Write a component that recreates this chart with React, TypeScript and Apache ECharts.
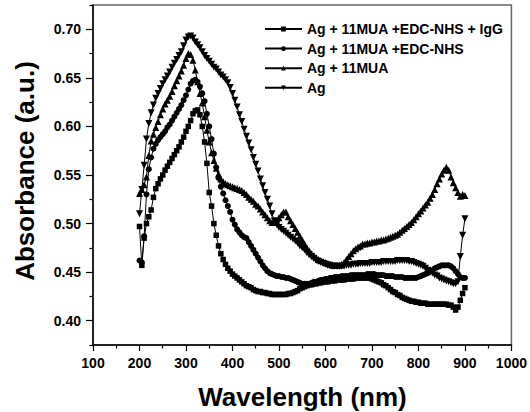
import React, { useEffect, useRef } from "react";
import * as echarts from "echarts";

const wavelengths = [
  200, 205, 210, 215, 220, 225, 230, 235, 240, 245,
  250, 255, 260, 265, 270, 275, 280, 285, 290, 295,
  300, 305, 310, 315, 320, 325, 330, 335, 340, 345,
  350, 355, 360, 365, 370, 375, 380, 385, 390, 395,
  400, 405, 410, 415, 420, 425, 430, 435, 440, 445,
  450, 455, 460, 465, 470, 475, 480, 485, 490, 495,
  500, 505, 510, 515, 520, 525, 530, 535, 540, 545,
  550, 555, 560, 565, 570, 575, 580, 585, 590, 595,
  600, 605, 610, 615, 620, 625, 630, 635, 640, 645,
  650, 655, 660, 665, 670, 675, 680, 685, 690, 695,
  700, 705, 710, 715, 720, 725, 730, 735, 740, 745,
  750, 755, 760, 765, 770, 775, 780, 785, 790, 795,
  800, 805, 810, 815, 820, 825, 830, 835, 840, 845,
  850, 855, 860, 865, 870, 875, 880, 885, 890, 895,
  900,
];

// Ag + 11MUA +EDC-NHS + IgG (squares)
const agMuaEdcIgG = [
  0.497, 0.457, 0.485, 0.500, 0.507, 0.514, 0.527, 0.536, 0.541, 0.546,
  0.550, 0.555, 0.559, 0.563, 0.567, 0.571, 0.575, 0.579, 0.584, 0.589,
  0.595, 0.600, 0.606, 0.613, 0.616, 0.617, 0.612, 0.600, 0.584, 0.562,
  0.532, 0.518, 0.500, 0.488, 0.477, 0.469, 0.463, 0.458, 0.454, 0.451,
  0.448, 0.446, 0.444, 0.442, 0.440, 0.438, 0.436, 0.435, 0.434, 0.432,
  0.431, 0.430, 0.430, 0.429, 0.429, 0.428, 0.428, 0.427, 0.427, 0.427,
  0.427, 0.427, 0.427, 0.427, 0.428, 0.428, 0.429, 0.430, 0.431, 0.433,
  0.434, 0.435, 0.436, 0.437, 0.437, 0.438, 0.438, 0.439, 0.439, 0.440,
  0.440, 0.440, 0.441, 0.441, 0.441, 0.442, 0.442, 0.442, 0.442, 0.443,
  0.443, 0.443, 0.443, 0.444, 0.444, 0.444, 0.444, 0.444, 0.444, 0.444,
  0.443, 0.442, 0.441, 0.440, 0.439, 0.437, 0.436, 0.434, 0.432, 0.430,
  0.429, 0.427, 0.426, 0.424, 0.423, 0.422, 0.421, 0.420, 0.420, 0.419,
  0.419, 0.418, 0.418, 0.418, 0.417, 0.417, 0.417, 0.417, 0.417, 0.417,
  0.417, 0.417, 0.417, 0.416, 0.416, 0.414, 0.411, 0.414, 0.421, 0.428,
  0.434,
];

// Ag + 11MUA +EDC-NHS (circles)
const agMuaEdc = [
  0.462, 0.460, 0.487, 0.530, 0.556, 0.568, 0.577, 0.582, 0.586, 0.589,
  0.592, 0.595, 0.599, 0.602, 0.606, 0.610, 0.614, 0.618, 0.622, 0.627,
  0.632, 0.638, 0.644, 0.647, 0.648, 0.646, 0.641, 0.634, 0.626, 0.613,
  0.600, 0.587, 0.572, 0.558, 0.547, 0.538, 0.531, 0.524, 0.518, 0.512,
  0.504, 0.499, 0.494, 0.491, 0.488, 0.486, 0.485, 0.481, 0.477, 0.473,
  0.469, 0.465, 0.461, 0.457, 0.454, 0.451, 0.449, 0.448, 0.447, 0.446,
  0.446, 0.445, 0.445, 0.444, 0.444, 0.443, 0.442, 0.441, 0.440, 0.439,
  0.438, 0.438, 0.438, 0.438, 0.439, 0.440, 0.440, 0.441, 0.442, 0.442,
  0.443, 0.443, 0.444, 0.444, 0.445, 0.445, 0.445, 0.446, 0.446, 0.446,
  0.446, 0.447, 0.447, 0.447, 0.447, 0.447, 0.447, 0.447, 0.448, 0.448,
  0.448, 0.448, 0.447, 0.447, 0.447, 0.447, 0.446, 0.446, 0.446, 0.446,
  0.445, 0.445, 0.445, 0.445, 0.444, 0.444, 0.444, 0.444, 0.444, 0.444,
  0.445, 0.446, 0.447, 0.448, 0.449, 0.451, 0.452, 0.454, 0.455, 0.456,
  0.457, 0.457, 0.457, 0.457, 0.456, 0.454, 0.451, 0.448, 0.445, 0.444,
  0.444,
];

// Ag + 11MUA (up triangles)
const agMua = [
  0.531, 0.535, 0.540, 0.548, 0.570, 0.585, 0.592, 0.599, 0.605, 0.612,
  0.618, 0.623, 0.627, 0.631, 0.636, 0.642, 0.647, 0.652, 0.657, 0.663,
  0.670, 0.675, 0.674, 0.668, 0.658, 0.646, 0.634, 0.624, 0.610, 0.596,
  0.584, 0.573, 0.565, 0.557, 0.551, 0.546, 0.543, 0.541, 0.540, 0.539,
  0.538, 0.537, 0.536, 0.535, 0.534, 0.532, 0.530, 0.527, 0.525, 0.523,
  0.520, 0.518, 0.515, 0.512, 0.509, 0.506, 0.503, 0.501, 0.501, 0.503,
  0.506, 0.509, 0.512, 0.512, 0.507, 0.503, 0.499, 0.495, 0.491, 0.487,
  0.483, 0.479, 0.475, 0.472, 0.469, 0.467, 0.465, 0.463, 0.462, 0.461,
  0.460, 0.459, 0.458, 0.457, 0.457, 0.457, 0.457, 0.458, 0.460, 0.463,
  0.466, 0.469, 0.472, 0.474, 0.476, 0.477, 0.479, 0.479, 0.480, 0.480,
  0.481, 0.481, 0.482, 0.482, 0.483, 0.483, 0.484, 0.485, 0.486, 0.487,
  0.488, 0.489, 0.491, 0.493, 0.495, 0.497, 0.499, 0.501, 0.504, 0.507,
  0.510, 0.513, 0.516, 0.519, 0.522, 0.526, 0.530, 0.535, 0.541, 0.546,
  0.551, 0.555, 0.558, 0.555, 0.548, 0.542, 0.537, 0.532, 0.528, 0.530,
  0.529,
];

// Ag (down triangles)
const ag = [
  0.510, 0.535, 0.560, 0.587, 0.603, 0.614, 0.622, 0.629, 0.634, 0.639,
  0.644, 0.648, 0.652, 0.656, 0.661, 0.665, 0.669, 0.673, 0.677, 0.683,
  0.689, 0.692, 0.693, 0.691, 0.687, 0.684, 0.681, 0.677, 0.673, 0.670,
  0.667, 0.664, 0.661, 0.659, 0.656, 0.653, 0.651, 0.648, 0.645, 0.640,
  0.634, 0.627, 0.620, 0.612, 0.605, 0.597, 0.590, 0.583, 0.576, 0.568,
  0.561, 0.554, 0.546, 0.539, 0.532, 0.525, 0.518, 0.510, 0.503, 0.499,
  0.496, 0.494, 0.492, 0.490, 0.488, 0.486, 0.484, 0.482, 0.480, 0.477,
  0.475, 0.473, 0.470, 0.468, 0.466, 0.464, 0.462, 0.461, 0.460, 0.459,
  0.458, 0.457, 0.457, 0.456, 0.456, 0.456, 0.456, 0.456, 0.456, 0.457,
  0.457, 0.457, 0.458, 0.458, 0.458, 0.459, 0.459, 0.459, 0.459, 0.459,
  0.460, 0.460, 0.460, 0.460, 0.460, 0.461, 0.461, 0.461, 0.461, 0.461,
  0.461, 0.462, 0.462, 0.462, 0.462, 0.462, 0.461, 0.461, 0.460, 0.459,
  0.458, 0.457, 0.456, 0.454, 0.452, 0.450, 0.449, 0.447, 0.446, 0.444,
  0.443, 0.442, 0.441, 0.440, 0.439, 0.438, 0.438, 0.440, 0.466, 0.488,
  0.505,
];

const seriesNames = [
  "Ag + 11MUA +EDC-NHS + IgG",
  "Ag + 11MUA +EDC-NHS",
  "Ag + 11MUA",
  "Ag",
];

const yMajorTicks = [0.4, 0.45, 0.5, 0.55, 0.6, 0.65, 0.7];
const yMinorTicks = [0.375, 0.425, 0.475, 0.525, 0.575, 0.625, 0.675, 0.725];

const FONT = '"Liberation Sans", Arial, Helvetica, sans-serif';

export default function App() {
  const ref = useRef<HTMLDivElement>(null);

  useEffect(() => {
    document.body.style.margin = "0";
    if (!ref.current) return;
    const chart = echarts.init(ref.current, null, { renderer: "svg" });

    const symbols = ["rect", "circle", "triangle", "path://M0,0L10,0L5,9Z"];
    const sizes = [5.5, 6, 7, 7];
    const datasets = [agMuaEdcIgG, agMuaEdc, agMua, ag];

    const series = datasets.map((vals, k) => ({
      type: "line",
      name: seriesNames[k],
      data: wavelengths.map((w, i) => [w, vals[i]]),
      symbol: symbols[k],
      symbolSize: sizes[k],
      showAllSymbol: true,
      lineStyle: { color: "#000", width: 1 },
      itemStyle: { color: "#000" },
      emphasis: { disabled: true },
    }));

    const option: any = {
      animation: false,
      grid: {
        left: 93,
        right: 18,
        top: 5,
        bottom: 67,
        show: true,
        borderColor: "#666",
        borderWidth: 1.5,
        backgroundColor: "transparent",
      },
      legend: {
        orient: "vertical",
        left: 259,
        top: 17,
        itemWidth: 37,
        itemHeight: 6,
        itemGap: 5.6,
        data: seriesNames,
        textStyle: {
          fontFamily: FONT,
          fontWeight: "bold",
          fontSize: 14,
          color: "#000",
        },
      },
      xAxis: {
        type: "value",
        min: 100,
        max: 1000,
        interval: 100,
        axisLine: { show: true, onZero: false, lineStyle: { color: "#000", width: 1.5 } },
        axisTick: { show: true, length: 6, lineStyle: { color: "#000", width: 1.2 } },
        minorTick: { show: true, splitNumber: 2, length: 3.5, lineStyle: { color: "#000", width: 1.2 } },
        axisLabel: {
          formatter: (v: number) => String(v),
          fontFamily: FONT,
          fontWeight: "bold",
          fontSize: 14,
          color: "#000",
          margin: 11,
        },
        splitLine: { show: false },
        minorSplitLine: { show: false },
      },
      yAxis: [
        {
          type: "value",
          min: 0.375,
          max: 0.725,
          axisLine: { show: true, onZero: false, lineStyle: { color: "#000", width: 1.5 } },
          axisTick: {
            show: true,
            length: 7,
            customValues: yMajorTicks,
            lineStyle: { color: "#000", width: 1.2 },
          },
          axisLabel: {
            customValues: yMajorTicks,
            formatter: (v: number) => v.toFixed(2),
            fontFamily: FONT,
            fontWeight: "bold",
            fontSize: 14,
            color: "#000",
            margin: 12,
          },
          splitLine: { show: false },
        },
        {
          type: "value",
          min: 0.375,
          max: 0.725,
          position: "left",
          axisLine: { show: false },
          axisTick: {
            show: true,
            length: 3.5,
            customValues: yMinorTicks,
            lineStyle: { color: "#000", width: 1.2 },
          },
          axisLabel: { show: false },
          splitLine: { show: false },
        },
      ],
      graphic: [
        {
          type: "text",
          x: 25,
          y: 171,
          rotation: Math.PI / 2,
          style: {
            text: "Absorbance (a.u.)",
            font: `bold 26px ${FONT}`,
            fill: "#000",
            textAlign: "center",
            textVerticalAlign: "middle",
          },
        },
        {
          type: "text",
          x: 302.5,
          y: 397,
          style: {
            text: "Wavelength (nm)",
            font: `bold 26px ${FONT}`,
            fill: "#000",
            textAlign: "center",
            textVerticalAlign: "middle",
          },
        },
      ],
      series,
    };

    chart.setOption(option);
    return () => {
      chart.dispose();
    };
  }, []);

  return <div ref={ref} style={{ width: 530, height: 412 }} />;
}
